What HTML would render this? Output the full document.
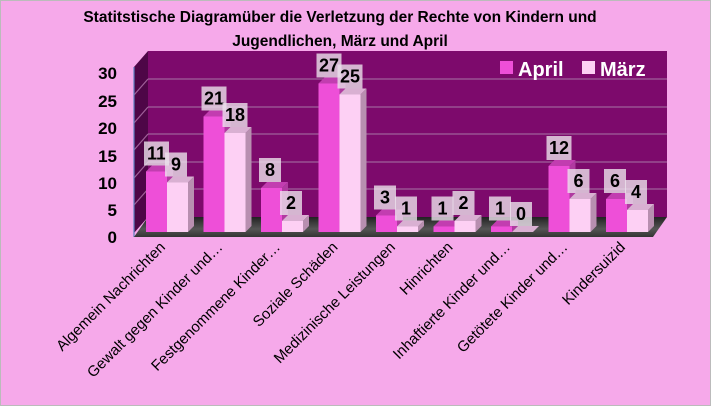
<!DOCTYPE html>
<html><head><meta charset="utf-8"><style>
body{margin:0;background:#fff}
svg{display:block;font-family:"Liberation Sans",sans-serif}
</style></head><body>
<svg width="711" height="406" viewBox="0 0 711 406">
<rect x="0.5" y="0.5" width="710" height="405" fill="#f6a9ea" stroke="#bbb"/>
<text x="340" y="22" text-anchor="middle" font-size="15.5" font-weight="bold" fill="#000">Statitstische Diagramüber die Verletzung der Rechte von Kindern und</text>
<text x="340" y="46" text-anchor="middle" font-size="15.5" font-weight="bold" fill="#000">Jugendlichen, März und April</text>
<polygon points="134,67 148,51 148,217 134,233" fill="#4e0647"/>
<rect x="148" y="51" width="519" height="166" fill="#7d0a6c"/>
<g stroke="#a0609a" stroke-width="1.2">
<line x1="148" y1="79" x2="667" y2="79"/><line x1="148" y1="107" x2="667" y2="107"/>
<line x1="148" y1="134" x2="667" y2="134"/><line x1="148" y1="162" x2="667" y2="162"/>
<line x1="148" y1="189" x2="667" y2="189"/>
<line x1="134" y1="95" x2="148" y2="79"/><line x1="134" y1="123" x2="148" y2="107"/>
<line x1="134" y1="150" x2="148" y2="134"/><line x1="134" y1="178" x2="148" y2="162"/>
<line x1="134" y1="205" x2="148" y2="189"/>
</g>
<line x1="134" y1="67" x2="134" y2="237" stroke="#5b7fc0" stroke-width="1.2"/>
<defs><linearGradient id="fl" x1="0" y1="0" x2="0" y2="1"><stop offset="0" stop-color="#222"/><stop offset="0.6" stop-color="#555"/><stop offset="1" stop-color="#333"/></linearGradient></defs>
<polygon points="148,217 667,217 653,237 134,237" fill="url(#fl)"/>
<rect x="500" y="61" width="13" height="13" fill="#ee4fd8"/>
<text x="518" y="76" font-size="20" font-weight="bold" fill="#fff">April</text>
<rect x="582" y="61" width="13" height="13" fill="#fdd0f4"/>
<text x="600" y="76" font-size="20" font-weight="bold" fill="#fff">März</text>
<g font-size="17" font-weight="bold" text-anchor="end" fill="#000">
<text x="117" y="79">30</text><text x="117" y="107">25</text><text x="117" y="134">20</text>
<text x="117" y="162">15</text><text x="117" y="189">10</text><text x="117" y="216">5</text><text x="117" y="243">0</text>
</g>
<g id="bars"></g>
<g id="xl" font-size="15" fill="#000"></g>
</svg>
<script>
const a=[11,21,8,27,3,1,1,12,6],m=[9,18,2,25,1,2,0,6,4];
const names=["Algemein Nachrichten","Gewalt gegen Kinder und…","Festgenommene Kinder…","Soziale Schäden","Medizinische Leistungen","Hinrichten","Inhaftierte Kinder und…","Getötete Kinder und…","Kindersuizid"];
const NS="http://www.w3.org/2000/svg";
const g=document.getElementById("bars"),xl=document.getElementById("xl");
function el(t,at,p){const e=document.createElementNS(NS,t);for(const k in at)e.setAttribute(k,at[k]);(p||g).appendChild(e);return e;}
function bar(x,v,c,top,side){const b=232,h=Math.max(v*5.5,0.01),t=b-h,w=21,d=6;
el("polygon",{points:`${x+w},${t} ${x+w+d},${t-d} ${x+w+d},${b-d} ${x+w},${b}`,fill:side});
el("polygon",{points:`${x},${t} ${x+d},${t-d} ${x+w+d},${t-d} ${x+w},${t}`,fill:top});
if(v>0)el("rect",{x:x,y:t,width:w,height:h,fill:c});
const s=String(v),bw=s.length>1?25:22;
el("rect",{x:x-2,y:t-30,width:bw,height:24,fill:"rgba(235,225,235,0.8)"});
const tx=el("text",{x:x-2+bw/2,y:t-12,"text-anchor":"middle","font-size":"18","font-weight":"bold",fill:"#000"});tx.textContent=s;}
for(let i=0;i<9;i++){const x=146+57.5*i;
bar(x,a[i],"#ee4fd8","#c23db0","#b03aa0");
bar(x+21,m[i],"#fdd0f4","#d9b0d2","#b88fb0");
const cx=x+20,tx=el("text",{x:cx,y:248,"text-anchor":"end",transform:`rotate(-45 ${cx} 248)`},xl);tx.textContent=names[i];}
</script>
</body></html>
